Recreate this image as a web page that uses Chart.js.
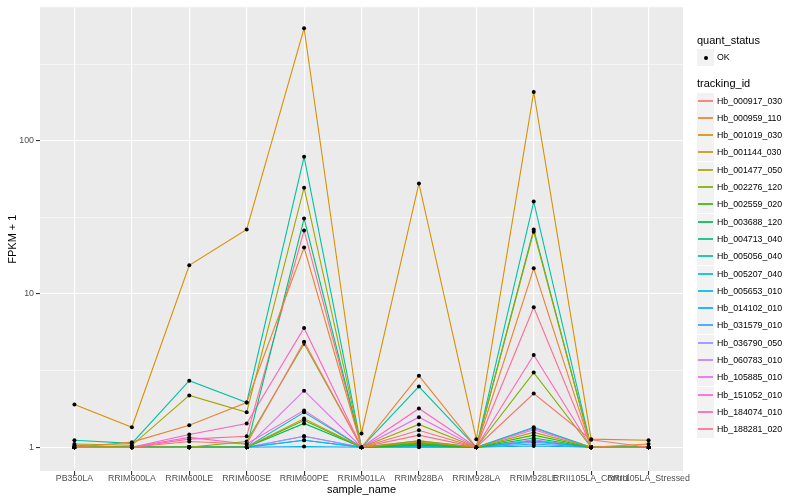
<!DOCTYPE html>
<html>
<head>
<meta charset="utf-8">
<script src="https://cdn.jsdelivr.net/npm/chart.js@4.4.1/dist/chart.umd.min.js"></script>
<style>
    body { margin: 0; background: #fff; }
    #wrap { position: relative; width: 800px; height: 500px; font-family: "Liberation Sans", Arial, sans-serif; }
    #legend { position: absolute; left: 697px; top: 0; width: 103px; color: #000; }
    .ltitle { position: absolute; left: 0; font-size: 11px; line-height: 13px; white-space: nowrap; }
    .lkey { position: absolute; left: 0; width: 17px; height: 17px; background: #f2f2f2; }
    .lkey span { position: absolute; left: 1px; right: 1px; top: 7px; height: 2px; opacity: 0.85; }
    .ldot { position: absolute; left: 7px; top: 7px; width: 4px; height: 4px; border-radius: 2px; background: #000; }
    .llabel { position: absolute; left: 20px; font-size: 8.8px; line-height: 17px; white-space: nowrap; }
</style>
</head>
<body>
<div id="wrap">
    <canvas id="lineChart"></canvas>
    <div id="legend"></div>
</div>
<script>
//samples on the x axis
var sampleNames = ["PB350LA", "RRIM600LA", "RRIM600LE", "RRIM600SE", "RRIM600PE", "RRIM901LA",
    "RRIM928BA", "RRIM928LA", "RRIM928LE", "RRII105LA_Control", "RRII105LA_Stressed"];

//FPKM + 1 per gene, one value per sample
var hb_000917_030 = [1.0, 1.0, 1.09, 1.05, 4.88, 1.0, 1.29, 1.0, 2.24, 1.12, 1.0];
var hb_000959_110 = [1.0, 1.08, 1.39, 1.96, 20.1, 1.0, 2.93, 1.0, 14.7, 1.0, 1.05];
var hb_001019_030 = [1.9, 1.35, 15.4, 26.4, 542, 1.23, 52.7, 1.13, 208, 1.13, 1.11];
var hb_001144_030 = [1.0, 1.0, 1.0, 1.0, 1.54, 1.0, 1.08, 1.0, 1.25, 1.0, 1.0];
var hb_001477_050 = [1.05, 1.03, 2.18, 1.69, 49.4, 1.0, 1.41, 1.0, 25.5, 1.0, 1.0];
var hb_002276_120 = [1.03, 1.0, 1.0, 1.09, 4.73, 1.0, 1.1, 1.0, 3.07, 1.0, 1.0];
var hb_002559_020 = [1.0, 1.0, 1.0, 1.0, 1.5, 1.0, 1.05, 1.0, 1.2, 1.0, 1.0];
var hb_003688_120 = [1.0, 1.0, 1.0, 1.0, 1.43, 1.0, 1.03, 1.0, 1.15, 1.0, 1.0];
var hb_004713_040 = [1.0, 1.0, 1.0, 1.0, 31.1, 1.0, 1.06, 1.0, 26.4, 1.0, 1.0];
var hb_005056_040 = [1.11, 1.06, 2.72, 1.96, 78.6, 1.0, 2.49, 1.0, 40.1, 1.0, 1.0];
var hb_005207_040 = [1.0, 1.0, 1.0, 1.0, 1.69, 1.0, 1.07, 1.0, 1.35, 1.0, 1.0];
var hb_005653_010 = [1.0, 1.0, 1.0, 1.0, 1.11, 1.0, 1.02, 1.0, 1.1, 1.0, 1.0];
var hb_014102_010 = [1.0, 1.0, 1.0, 1.0, 1.01, 1.0, 1.0, 1.0, 1.02, 1.0, 1.0];
var hb_031579_010 = [1.0, 1.0, 1.0, 1.0, 1.11, 1.0, 1.01, 1.0, 1.05, 1.0, 1.0];
var hb_036790_050 = [1.0, 1.0, 1.0, 1.0, 1.18, 1.0, 1.04, 1.0, 1.08, 1.0, 1.0];
var hb_060783_010 = [1.0, 1.0, 1.0, 1.0, 1.18, 1.0, 1.02, 1.0, 1.12, 1.0, 1.0];
var hb_105885_010 = [1.0, 1.0, 1.0, 1.0, 2.34, 1.0, 1.57, 1.0, 1.3, 1.0, 1.0];
var hb_151052_010 = [1.0, 1.0, 1.16, 1.05, 1.74, 1.0, 1.1, 1.0, 1.33, 1.0, 1.0];
var hb_184074_010 = [1.0, 1.0, 1.21, 1.43, 6.0, 1.0, 1.79, 1.0, 4.0, 1.0, 1.0];
var hb_188281_020 = [1.0, 1.0, 1.13, 1.18, 26.0, 1.0, 1.2, 1.0, 8.2, 1.0, 1.0];

var trackingIds = ["Hb_000917_030", "Hb_000959_110", "Hb_001019_030", "Hb_001144_030", "Hb_001477_050",
    "Hb_002276_120", "Hb_002559_020", "Hb_003688_120", "Hb_004713_040", "Hb_005056_040",
    "Hb_005207_040", "Hb_005653_010", "Hb_014102_010", "Hb_031579_010", "Hb_036790_050",
    "Hb_060783_010", "Hb_105885_010", "Hb_151052_010", "Hb_184074_010", "Hb_188281_020"];
var seriesValues = [hb_000917_030, hb_000959_110, hb_001019_030, hb_001144_030, hb_001477_050,
    hb_002276_120, hb_002559_020, hb_003688_120, hb_004713_040, hb_005056_040,
    hb_005207_040, hb_005653_010, hb_014102_010, hb_031579_010, hb_036790_050,
    hb_060783_010, hb_105885_010, hb_151052_010, hb_184074_010, hb_188281_020];

//y ticks (log10), minor lines sit half way between
var majorTicks = [1, 10, 100];
var minorTicks = [3.1623, 31.623, 316.23];

//ggplot hue palette, 20 levels
var lineColors = ["#F8766D", "#EA8331", "#D89000", "#C09B00", "#A3A500", "#7CAE00", "#39B600",
    "#00BB4E", "#00BF7D", "#00C1A3", "#00BFC4", "#00BAE0", "#00B0F6", "#35A2FF", "#9590FF",
    "#C77CFF", "#E76BF3", "#FA62DB", "#FF62BC", "#FF6C91"];

var datasets = [];
for (var i = 0; i < trackingIds.length; i++) {
    datasets.push({
        label: trackingIds[i],
        data: seriesValues[i].map(function (v, j) { return { x: j, y: v }; }),
        borderColor: lineColors[i],
        borderWidth: 1.1,
        tension: 0,
        pointRadius: 2,
        pointBackgroundColor: "#000",
        pointBorderWidth: 0,
        pointHoverRadius: 2
    });
}

function isMajor(v) {
    return majorTicks.some(function (m) { return Math.abs(m - v) < 1e-6; });
}

//grey panel behind the plot
var panelBg = {
    id: "panelBg",
    beforeDraw: function (chart) {
        var a = chart.chartArea;
        var c = chart.ctx;
        c.save();
        c.fillStyle = "#EBEBEB";
        c.fillRect(a.left, a.top, a.right - a.left, a.bottom - a.top);
        c.restore();
    }
};

var axisFont = { family: "'Liberation Sans', Arial, sans-serif", size: 8.8 };
var titleFont = { family: "'Liberation Sans', Arial, sans-serif", size: 11 };

var chart1 = new Chart(document.getElementById("lineChart"), {
    type: "line",
    data: { datasets: datasets },
    plugins: [panelBg],
    options: {
        responsive: true,
        maintainAspectRatio: false,
        animation: false,
        layout: { padding: { top: 4, right: 117, left: 0, bottom: 0 } },
        plugins: {
            legend: { display: false },
            tooltip: { enabled: false }
        },
        scales: {
            x: {
                type: "linear",
                min: -0.6,
                max: sampleNames.length - 1 + 0.6,
                afterBuildTicks: function (scale) {
                    scale.ticks = sampleNames.map(function (n, j) { return { value: j }; });
                },
                afterFit: function (scale) { scale.height = 29; },
                border: { display: false },
                grid: { color: "#FFFFFF", lineWidth: 1.1, tickColor: "#333333", tickLength: 4 },
                ticks: {
                    autoSkip: false,
                    maxRotation: 0,
                    minRotation: 0,
                    padding: -2,
                    color: "#4D4D4D",
                    font: axisFont,
                    callback: function (v) { return sampleNames[v]; }
                },
                title: { display: true, text: "sample_name", color: "#000", font: titleFont, padding: { top: 0, bottom: 3 } }
            },
            y: {
                type: "logarithmic",
                min: Math.pow(10, -0.137),
                max: Math.pow(10, 2.871),
                afterBuildTicks: function (scale) {
                    scale.ticks = majorTicks.concat(minorTicks).sort(function (a, b) { return a - b; })
                        .map(function (v) { return { value: v }; });
                },
                afterFit: function (scale) { scale.width = 40; },
                border: { display: false },
                grid: {
                    color: "#FFFFFF",
                    lineWidth: function (ctx) { return isMajor(ctx.tick.value) ? 1.1 : 0.55; },
                    tickColor: function (ctx) { return isMajor(ctx.tick.value) ? "#333333" : "rgba(0,0,0,0)"; },
                    tickLength: 4
                },
                ticks: {
                    padding: 2,
                    color: "#4D4D4D",
                    font: axisFont,
                    callback: function (v) { return isMajor(v) ? String(Math.round(v)) : ""; }
                },
                title: { display: true, text: "FPKM + 1", color: "#000", font: titleFont, padding: { top: 6, bottom: 0 } }
            }
        }
    }
});

//legend on the right, built from the same ids and colours
var legendBox = document.getElementById("legend");
var html = '<div class="ltitle" style="top:34px">quant_status</div>';
html += '<div class="lkey" style="top:49px"><div class="ldot"></div></div>';
html += '<div class="llabel" style="top:49px">OK</div>';
html += '<div class="ltitle" style="top:77px">tracking_id</div>';
for (var k = 0; k < trackingIds.length; k++) {
    var keyTop = Math.round(92.5 + k * 17.3);
    html += '<div class="lkey" style="top:' + keyTop + 'px"><span style="background:' + lineColors[k] + '"></span></div>';
    html += '<div class="llabel" style="top:' + keyTop + 'px">' + trackingIds[k] + '</div>';
}
legendBox.innerHTML = html;
</script>
</body>
</html>
